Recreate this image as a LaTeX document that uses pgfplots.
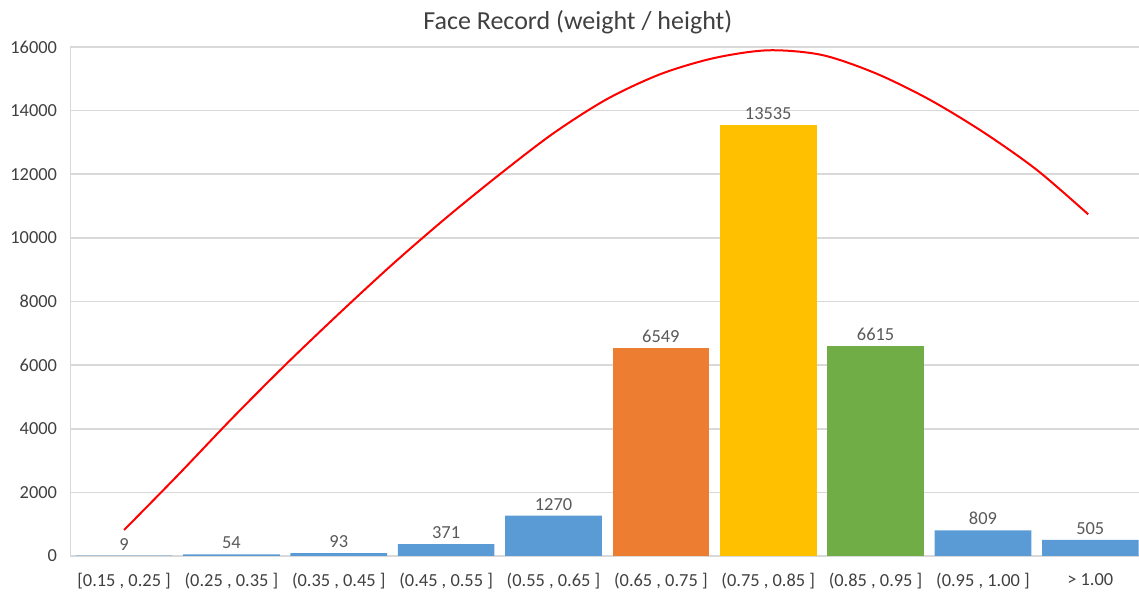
\documentclass[border=0pt]{standalone}
\usepackage{fontspec}
\setmainfont{Carlito}
\usepackage{pgfplots}
\pgfplotsset{compat=1.18}

\definecolor{barblue}{HTML}{5B9BD5}
\definecolor{barorange}{HTML}{ED7D31}
\definecolor{baryellow}{HTML}{FFC000}
\definecolor{bargreen}{HTML}{70AD47}
\definecolor{gridgray}{HTML}{D9D9D9}
\definecolor{labelgray}{HTML}{595959}
\definecolor{textgray}{HTML}{404040}

\begin{document}
\begin{tikzpicture}
\useasboundingbox (-35.2pt,-18pt) rectangle (534.3pt,278pt);
\begin{axis}[
  at={(0,0)}, anchor=south west,
  scale only axis, width=534.1pt, height=254.5pt,
  xmin=-0.5, xmax=9.45, ymin=0, ymax=16000,
  xtick={0,...,9},
  xticklabels={{[0.15 , 0.25 ]},{(0.25 , 0.35 ]},{(0.35 , 0.45 ]},{(0.45 , 0.55 ]},{(0.55 , 0.65 ]},{(0.65 , 0.75 ]},{(0.75 , 0.85 ]},{(0.85 , 0.95 ]},{(0.95 , 1.00 ]},{> 1.00}},
  ytick={0,2000,...,16000},
  scaled y ticks=false,
  /pgf/number format/assume math mode=true,
  /pgf/number format/1000 sep={},
  major tick length=0pt,
  ymajorgrids,
  grid style={draw=gridgray, line width=0.8pt},
  axis x line*=bottom, axis y line*=left,
  axis line style={-, draw=gridgray, line width=0.8pt},
  tick label style={font=\fontsize{9.2pt}{11pt}\selectfont, text=textgray},
  yticklabel style={inner sep=0pt, xshift=-6.5pt},
  xticklabel style={inner sep=0pt, yshift=-8.5pt},
  title={Face Record (weight / height)},
  title style={at={(0.475,1)}, anchor=base, yshift=2.5pt, inner sep=0pt,
    font=\fontsize{13pt}{15pt}\selectfont, text=textgray},
  ybar, bar shift=0pt, bar width=0.9,
  nodes near coords,
  every node near coord/.append style={font=\fontsize{9.2pt}{11pt}\selectfont,
    text=labelgray, inner sep=0pt, yshift=2.5pt},
]
% counts per weight/height interval
\addplot[fill=barblue, draw=none] coordinates {
  (0,9) (1,54) (2,93) (3,371) (4,1270) (8,809) (9,505)};
\addplot[fill=barorange, draw=none] coordinates {(5,6549)};
\addplot[fill=baryellow, draw=none] coordinates {(6,13535)};
\addplot[fill=bargreen, draw=none] coordinates {(7,6615)};
% trend curve
\addplot[sharp plot, smooth, tension=0.5, red, line width=1pt, nodes near coords=, mark=none] coordinates {
  (0,817) (0.5,2536) (1,4305) (1.5,6000) (2,7613) (2.5,9169) (3,10630)
  (3.5,12000) (4,13290) (4.5,14366) (5,15152) (5.5,15655) (6,15896)
  (6.5,15749) (7,15174) (7.5,14350) (8,13330) (8.5,12141) (8.98,10741)};
\end{axis}
\end{tikzpicture}
\end{document}
